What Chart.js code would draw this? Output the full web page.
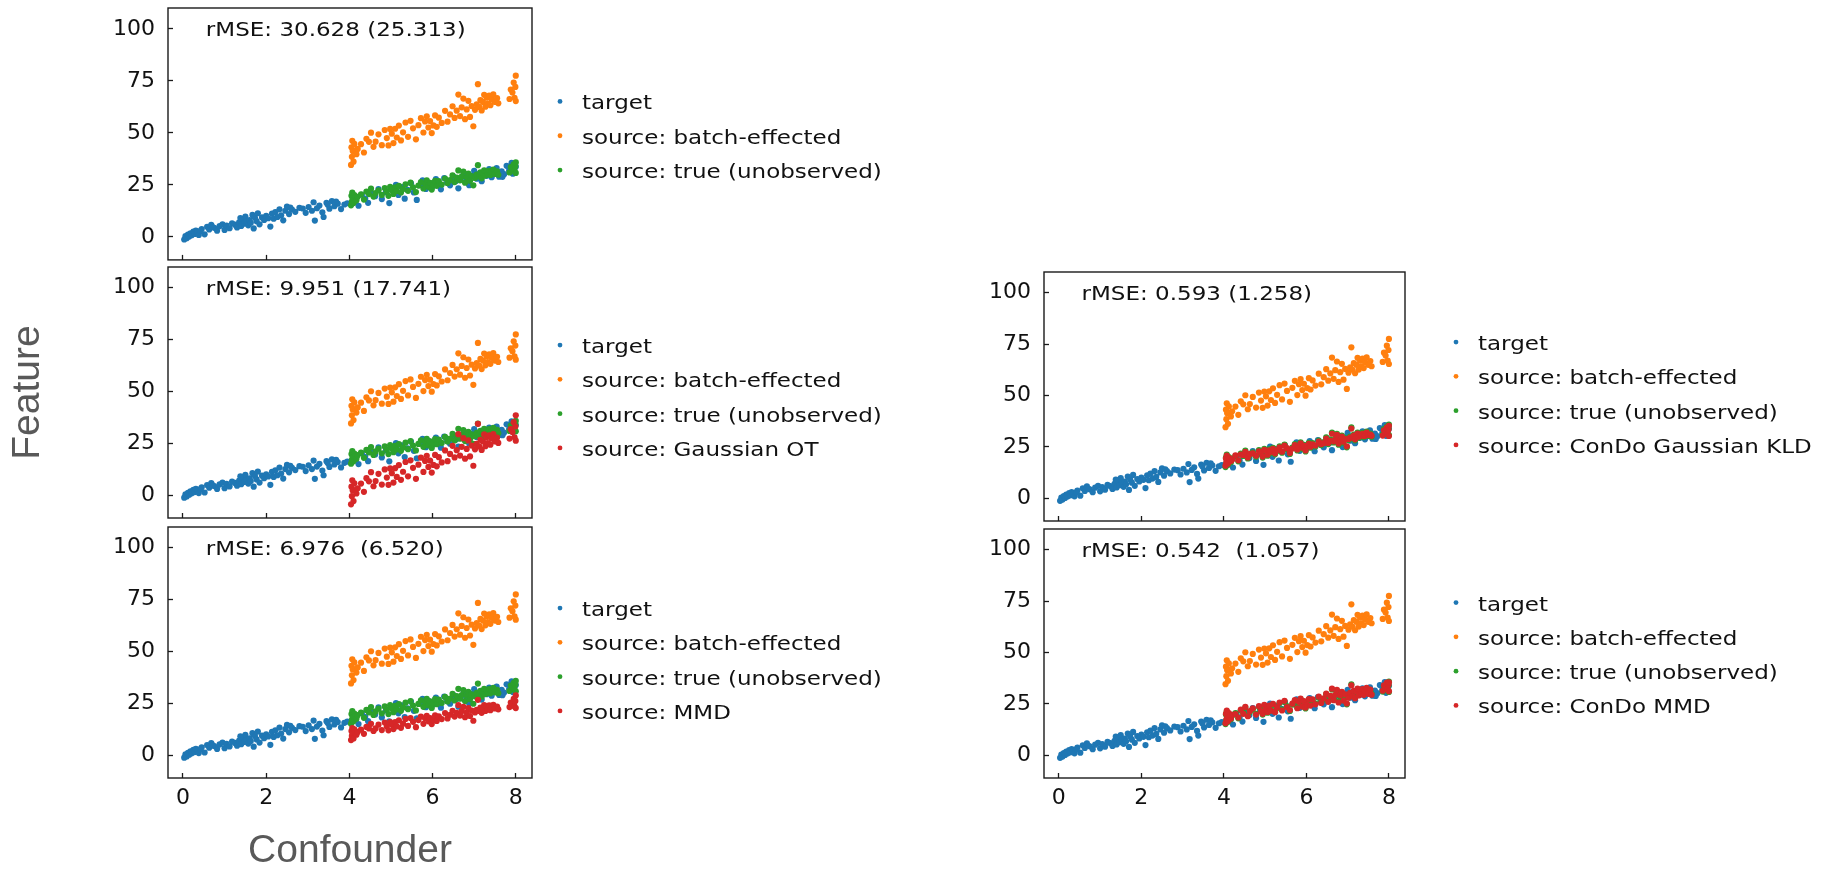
<!DOCTYPE html>
<html>
<head>
<meta charset="utf-8">
<script src="https://cdn.jsdelivr.net/npm/chart.js@4/dist/chart.umd.min.js"></script>
<style>
html,body{margin:0;padding:0;background:#fff;overflow:hidden;width:1821px;height:870px;}
canvas{position:absolute;}
</style>
</head>
<body>
<canvas id="c1" width="900" height="263" style="left:0px;top:0px;"></canvas>
<canvas id="c2" width="900" height="259" style="left:0px;top:263px;"></canvas>
<canvas id="c3" width="900" height="353" style="left:0px;top:522px;"></canvas>
<canvas id="c4" width="921" height="262" style="left:900px;top:263px;"></canvas>
<canvas id="c5" width="921" height="350" style="left:900px;top:525px;"></canvas>
<script>
// ---------------- data ----------------
const targetX = [0.03,0.06,0.09,0.12,0.15,0.18,0.21,0.25,0.28,0.31,
  0.34,0.38,0.45,0.52,0.58,0.63,0.68,0.75,0.82,0.88,
  0.95,1.00,1.05,1.12,1.25,1.30,1.35,1.40,1.43,1.47,
  1.50,1.53,1.57,1.60,1.63,1.67,1.70,1.73,1.77,1.80,
  1.84,1.90,1.95,2.00,2.05,2.10,2.14,2.18,2.22,2.27,
  2.32,2.36,2.41,2.46,2.50,2.55,2.62,2.70,2.80,3.10,
  3.14,3.17,3.22,3.28,3.35,3.38,3.45,3.52,3.58,3.64,
  3.72,3.80,2.88,2.95,3.02,0.42,0.71,1.18,1.38,2.58,
  3.48,3.68,
  3.88,3.95,4.08,4.15,4.22,4.30,4.38,4.45,4.55,4.62,
  4.70,4.78,4.88,4.96,5.04,5.12,5.18,5.26,5.33,5.40,
  5.48,5.55,5.62,5.70,5.76,5.84,5.92,6.00,6.08,6.14,
  6.20,6.28,6.35,6.42,6.50,6.56,6.62,6.68,6.75,6.82,
  6.88,6.94,7.00,7.06,7.12,7.18,7.24,7.30,7.36,7.42,
  7.48,7.54,7.60,7.66,7.72,7.78,7.84,7.90,7.96,8.00,
  7.93,7.68];
const targetY = [-1.2,0.4,-0.6,1.1,0.2,1.8,0.9,2.6,1.5,3.1,
  2.2,1.0,3.8,1.3,4.9,3.6,5.8,4.4,3.0,5.2,
  6.1,3.4,5.5,4.2,5.9,4.6,7.0,5.3,8.6,6.4,
  9.8,7.4,5.6,8.1,6.8,10.6,4.1,9.2,7.6,11.4,
  6.1,9.4,8.2,10.1,9.0,5.0,11.2,8.8,12.0,9.6,
  13.3,10.4,8.0,12.6,14.6,11.0,13.2,12.1,14.0,12.6,
  16.7,7.9,13.8,15.1,11.9,9.6,16.4,13.6,17.3,14.8,
  16.0,13.4,13.7,11.6,14.4,2.9,4.8,6.6,9.1,14.1,
  15.5,17.0,
  15.6,16.2,19.1,17.2,15.0,20.3,18.5,16.4,21.0,19.6,
  23.0,18.2,21.6,16.3,22.4,25.1,20.2,24.0,18.4,22.6,
  25.8,21.4,17.8,24.9,27.2,23.1,26.0,24.2,27.8,25.4,
  22.9,28.3,26.1,24.8,29.0,26.9,23.4,28.2,30.6,27.4,
  24.9,29.5,31.8,28.0,30.3,26.8,31.2,29.4,32.6,28.7,
  30.9,33.1,29.0,31.5,30.2,34.2,31.9,35.6,32.7,33.8,
  30.4,28.9];

const sourceX = [4.04,4.05,4.06,4.07,4.08,4.10,4.12,4.14,4.17,4.20,
  4.28,4.35,4.41,4.47,4.52,4.58,4.63,4.70,4.78,4.85,
  4.90,4.94,4.98,5.02,5.06,5.10,5.14,5.19,5.24,5.29,
  5.35,5.41,5.47,5.53,5.60,5.66,5.72,5.78,5.82,5.86,
  5.90,5.94,5.98,6.02,6.06,6.10,6.15,6.22,6.30,6.36,
  6.42,6.48,6.53,6.58,6.62,6.66,6.70,6.74,6.78,6.82,
  6.86,6.90,6.94,6.98,7.02,7.06,7.09,7.12,7.15,7.18,
  7.21,7.24,7.27,7.30,7.33,7.36,7.39,7.42,7.46,7.50,
  7.55,7.58,7.85,7.88,7.92,7.95,7.97,7.99,8.00,8.00];

const batchY = [34.6,43.1,38.5,46.2,41.3,36.2,44.7,41.5,39.8,42.3,
  44.6,40.6,47.2,45.7,50.1,43.3,45.8,49.3,44.1,51.4,
  47.5,44.0,51.9,49.6,45.1,52.0,47.8,53.5,46.4,50.3,
  55.0,48.1,55.8,52.2,46.9,53.7,57.1,50.2,55.5,58.0,
  52.6,55.7,49.9,53.6,58.4,52.9,57.3,54.8,60.6,55.4,
  58.9,62.8,57.2,60.7,68.4,58.1,62.3,66.5,56.6,61.3,
  65.4,57.7,62.9,53.2,61.1,63.7,73.4,62.5,65.7,60.8,
  64.9,68.3,62.6,66.9,64.1,67.9,63.3,66.2,68.5,64.9,
  66.7,64.2,66.3,70.8,69.4,74.2,66.9,72.1,77.5,65.3];

const trueY = [15.2,19.8,17.0,21.3,18.4,16.3,20.1,18.9,17.6,19.3,
  20.5,18.0,21.8,20.6,23.2,19.4,21.1,22.4,20.2,23.5,
  21.9,19.8,24.1,22.6,20.7,23.8,22.1,24.6,21.4,23.0,
  25.3,22.2,26.1,23.9,21.6,24.7,26.4,23.3,25.6,27.2,
  24.1,26.0,22.8,25.0,27.0,24.6,26.8,25.2,28.1,25.9,
  27.3,29.6,26.4,28.5,32.0,27.2,29.0,31.4,26.1,28.8,
  30.5,27.0,29.3,24.8,28.4,30.0,34.5,29.1,31.0,28.2,
  30.6,32.0,29.5,31.3,30.2,31.8,29.8,30.9,32.4,30.3,
  31.5,29.9,31.0,33.6,32.5,34.9,31.6,33.9,35.8,30.8];

const gaussOtY = [-4.4,4.1,-0.5,7.2,2.3,-2.8,5.7,2.5,0.8,3.3,
  5.6,1.6,8.2,6.7,11.1,4.3,6.8,10.3,5.1,12.4,
  8.5,5.0,12.9,10.6,6.1,13.0,8.8,14.5,7.4,11.3,
  16.0,9.1,16.8,13.2,7.9,14.7,18.1,11.2,16.5,19.0,
  13.6,16.7,10.9,14.6,19.4,13.9,18.3,15.8,21.6,16.4,
  19.9,23.8,18.2,21.7,29.4,19.1,23.3,27.5,17.6,22.3,
  26.4,18.7,23.9,14.2,22.1,24.7,34.4,23.5,26.7,21.8,
  25.9,29.3,23.6,27.9,25.1,28.9,24.3,27.2,29.5,25.9,
  27.7,25.2,27.3,31.8,30.4,35.2,27.9,33.1,38.5,26.3];

const mmdY = [7.3,11.6,9.3,13.1,10.7,8.1,12.4,10.8,9.9,11.2,
  12.3,10.3,13.6,12.9,15.1,11.7,12.9,14.7,12.1,15.7,
  13.8,12.0,16.0,14.8,12.6,16.0,13.9,16.8,13.2,15.2,
  17.5,14.1,17.9,16.1,13.5,16.9,18.6,15.1,17.8,19.0,
  16.3,17.9,15.0,16.8,19.2,16.5,18.7,17.4,20.3,17.7,
  19.5,21.4,18.6,20.4,24.2,19.1,21.2,23.3,18.3,20.7,
  22.7,18.9,21.5,16.6,20.6,21.9,26.7,21.3,22.9,20.4,
  22.5,24.2,21.3,23.5,22.1,24.0,21.7,23.1,24.3,22.5,
  23.4,22.1,23.2,25.4,24.7,27.1,23.5,26.1,28.8,22.7];

const condoKldY = [15.9,19.4,17.6,20.8,18.9,16.9,19.6,19.4,18.1,18.8,
  20.9,18.5,21.3,21.1,22.6,19.9,21.6,21.9,20.7,22.9,
  22.4,20.3,23.6,23.1,21.2,23.3,22.6,24.1,21.9,23.5,
  24.8,22.7,25.6,24.4,22.1,24.2,25.9,23.8,25.1,26.7,
  24.6,25.5,23.3,25.5,26.5,25.1,26.3,25.7,27.6,26.4,
  26.8,29.1,26.9,28.0,31.4,27.7,28.5,30.9,26.6,28.3,
  30.0,27.5,28.8,25.3,28.9,29.5,33.9,29.6,30.5,28.7,
  30.1,31.5,30.0,30.8,30.7,31.3,30.3,30.4,31.9,30.8,
  31.0,30.4,30.5,33.1,32.0,34.4,31.1,33.4,35.2,30.3];

const condoMmdY = [15.6,20.2,17.4,21.7,18.0,16.7,20.5,18.5,17.9,19.7,
  20.1,18.4,22.2,20.2,23.6,19.0,21.5,22.8,19.8,23.9,
  21.5,20.2,24.5,22.2,21.1,24.2,21.7,25.0,21.0,23.4,
  25.7,21.8,26.5,23.5,22.0,25.1,26.8,22.9,26.0,27.6,
  23.7,26.4,23.2,24.6,27.4,24.2,27.2,24.8,28.5,25.5,
  27.7,30.0,26.0,28.9,32.4,26.8,29.4,31.8,25.7,29.2,
  30.9,26.6,29.7,25.2,28.0,30.4,34.0,28.7,31.4,27.8,
  31.0,32.4,29.1,31.7,29.8,32.2,29.4,31.3,32.8,29.9,
  31.9,29.5,31.4,34.0,32.9,35.3,32.0,34.3,35.5,31.2];

const xTicks = [0, 2, 4, 6, 8];
const yTicks = [0, 25, 50, 75, 100];
const rmseLabels = ['rMSE: 30.628 (25.313)', 'rMSE: 9.951 (17.741)', 'rMSE: 6.976  (6.520)',
                    'rMSE: 0.593 (1.258)', 'rMSE: 0.542  (1.057)'];
const baseLabels = ['target', 'source: batch-effected', 'source: true (unobserved)'];
const methodLabels = [null, 'source: Gaussian OT', 'source: MMD', 'source: ConDo Gaussian KLD', 'source: ConDo MMD'];
const methodY = [null, gaussOtY, mmdY, condoKldY, condoMmdY];
const xTitle = 'Confounder';
const yTitle = 'Feature';

// ---------------- styling / layout ----------------
const COL = { blue: '#1f77b4', orange: '#ff7f0e', green: '#2ca02c', red: '#d62728' };
const INK = '#111111';
const TXT_FONT = '19.5px "DejaVu Sans"';
const STRETCH = 1.18;

function pts(xs, ys) { return xs.map((x, i) => ({ x: x, y: ys[i] })); }

function drawStretched(ctx, text, x, y) {
  ctx.save();
  ctx.translate(x, y);
  ctx.scale(STRETCH, 1);
  ctx.fillText(text, 0, 0);
  ctx.restore();
}

const annotPlugin = {
  id: 'annot',
  afterDatasetsDraw(chart, args, opts) {
    const ctx = chart.ctx, a = chart.chartArea, sc = chart.scales;
    ctx.save();
    // frame
    ctx.strokeStyle = '#1a1a1a';
    ctx.lineWidth = 1.4;
    ctx.strokeRect(a.left, a.top, a.right - a.left, a.bottom - a.top);
    // rMSE annotation
    ctx.fillStyle = INK;
    ctx.font = TXT_FONT;
    ctx.textBaseline = 'alphabetic';
    ctx.textAlign = 'left';
    drawStretched(ctx, opts.text, sc.x.getPixelForValue(0.55), sc.y.getPixelForValue(100) + 7);
    // legend
    const ds = chart.data.datasets;
    const n = ds.length;
    const cy = (a.top + a.bottom) / 2 + opts.dy;
    ds.forEach((d, i) => {
      const y = cy + (i - (n - 1) / 2) * 34.3;
      const mx = a.right + opts.dx;
      ctx.fillStyle = d.backgroundColor;
      ctx.beginPath();
      ctx.arc(mx, y, 2.4, 0, Math.PI * 2);
      ctx.fill();
      ctx.fillStyle = INK;
      drawStretched(ctx, d.label, mx + 22, y + 8);
    });
    ctx.restore();
  }
};

function makeDatasets(k) {
  const ds = [
    { label: baseLabels[0], data: pts(targetX, targetY), backgroundColor: COL.blue, order: 4 },
    { label: baseLabels[1], data: pts(sourceX, batchY), backgroundColor: COL.orange, order: 3 },
    { label: baseLabels[2], data: pts(sourceX, trueY), backgroundColor: COL.green, order: 2 }
  ];
  if (methodLabels[k]) {
    ds.push({ label: methodLabels[k], data: pts(sourceX, methodY[k]), backgroundColor: COL.red, order: 1 });
  }
  ds.forEach(d => { d.pointRadius = 3.1; d.pointBorderWidth = 0; d.borderWidth = 0; d.pointHoverRadius = 3.1; });
  return ds;
}

function zeroPad(s) { s.paddingLeft = 0; s.paddingRight = 0; s.paddingTop = 0; s.paddingBottom = 0; }

function makeChart(id, k, cfg) {
  const gridCfg = { drawOnChartArea: false, drawTicks: true, tickLength: -5, tickWidth: 1.3, tickColor: '#1a1a1a' };
  new Chart(document.getElementById(id), {
    type: 'scatter',
    data: { datasets: makeDatasets(k) },
    plugins: [annotPlugin],
    options: {
      responsive: false,
      animation: false,
      events: [],
      layout: { padding: { left: 0, top: cfg.padTop, right: cfg.padRight, bottom: 0 } },
      plugins: {
        legend: { display: false },
        tooltip: { enabled: false },
        annot: { text: rmseLabels[k], dx: cfg.legDx, dy: cfg.legDy }
      },
      scales: {
        x: {
          type: 'linear', min: -0.36, max: 8.39,
          afterBuildTicks: s => { s.ticks = xTicks.map(v => ({ value: v })); },
          afterFit: s => { s.height = cfg.xH; zeroPad(s); },
          grid: gridCfg,
          border: { display: false },
          ticks: { display: cfg.showX, padding: 12, color: INK, font: { family: 'DejaVu Sans', size: 22 }, maxRotation: 0 },
          title: cfg.showXTitle ? {
            display: true, text: xTitle, color: '#595959',
            font: { family: 'Liberation Sans', size: 39, lineHeight: 1.2 },
            padding: { top: 0, bottom: 0 }
          } : { display: false }
        },
        y: {
          type: 'linear', min: -11, max: 110,
          afterBuildTicks: s => { s.ticks = yTicks.map(v => ({ value: v })); },
          afterFit: s => { s.width = cfg.yW; zeroPad(s); },
          grid: gridCfg,
          border: { display: false },
          ticks: { padding: 18, color: INK, font: { family: 'DejaVu Sans', size: 22 } },
          title: cfg.showYTitle ? {
            display: true, text: yTitle, color: '#595959',
            font: { family: 'Liberation Sans', size: 39, lineHeight: 1.2 },
            padding: { top: 5, bottom: 0 }
          } : { display: false }
        }
      }
    }
  });
}

makeChart('c1', 0, { padTop: 8, padRight: 368, yW: 168, xH: 3, showX: false, legDx: 28, legDy: 1.8 });
makeChart('c2', 1, { padTop: 4, padRight: 368, yW: 168, xH: 4, showX: false, legDx: 28, legDy: 4, showYTitle: true });
makeChart('c3', 2, { padTop: 5, padRight: 368, yW: 168, xH: 97, showX: true, legDx: 28, legDy: 7, showXTitle: true });
makeChart('c4', 3, { padTop: 9, padRight: 416, yW: 144, xH: 4, showX: false, legDx: 51, legDy: -3 });
makeChart('c5', 4, { padTop: 4, padRight: 416, yW: 144, xH: 97, showX: true, legDx: 51, legDy: 0.5 });
</script>
</body>
</html>
